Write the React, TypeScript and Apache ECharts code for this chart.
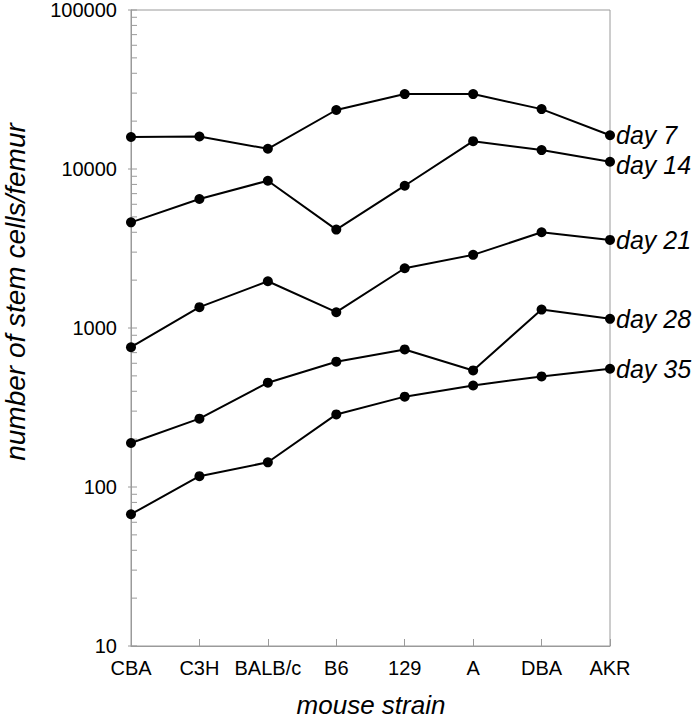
import React, { useEffect, useRef } from "react";
import * as echarts from "echarts";

const strains = ["CBA", "C3H", "BALB/c", "B6", "129", "A", "DBA", "AKR"];
const seriesNames = ["day 7", "day 14", "day 21", "day 28", "day 35"];
const day7 = [15900, 16000, 13400, 23500, 29600, 29600, 23800, 16300];
const day14 = [4620, 6480, 8440, 4160, 7850, 14970, 13150, 11100];
const day21 = [757, 1352, 1967, 1257, 2375, 2884, 4000, 3580];
const day28 = [189, 269, 453, 614, 733, 541, 1306, 1142];
const day35 = [67.4, 117, 143, 286, 370, 435, 496, 554];
const yDecades = [10, 100, 1000, 10000, 100000];
const xAxisTitle = "mouse strain";
const yAxisTitle = "number of stem cells/femur";

const FONT = "'Liberation Sans', Arial, Helvetica, sans-serif";
const AXIS_GREY = "#9a9a9a";

export default function App() {
  const ref = useRef<HTMLDivElement>(null);
  useEffect(() => {
    if (!ref.current) return;
    const chart = echarts.init(ref.current, null, { renderer: "svg" });
    const allData = [day7, day14, day21, day28, day35];
    const tickValues: number[] = [];
    yDecades.forEach((d, i) => {
      if (i === yDecades.length - 1) {
        tickValues.push(d);
        return;
      }
      for (let k = 1; k <= 9; k++) tickValues.push(d * k);
    });
    const labelOffsets = [[0, 0], [0, 3], [0, 0], [0, 0], [0, 0]];
    const lineSeries = allData.map((d, i) => ({
      type: "line",
      name: seriesNames[i],
      data: d,
      symbol: "circle",
      symbolSize: 10,
      z: 3,
      itemStyle: { color: "#000" },
      lineStyle: { color: "#000", width: 2 },
      endLabel: {
        show: true,
        formatter: "{a}",
        color: "#000",
        fontSize: 25,
        fontStyle: "italic",
        fontFamily: FONT,
        distance: 6,
        offset: labelOffsets[i],
      },
      labelLayout: { hideOverlap: false },
    }));
    const tickSeries = {
      type: "custom",
      name: "yticks",
      silent: true,
      z: 1,
      data: tickValues.map((v) => [0, v]),
      renderItem: (params: any, api: any) => {
        const v = api.value(1);
        const p = api.coord([0, v]);
        const isDecade = yDecades.indexOf(v) >= 0;
        return {
          type: "line",
          shape: { x1: p[0] - (isDecade ? 3 : 0), y1: p[1], x2: p[0] + 6, y2: p[1] },
          style: { stroke: AXIS_GREY, lineWidth: 1 },
        };
      },
    };
    chart.setOption({
      animation: false,
      backgroundColor: "#fff",
      grid: {
        left: 131,
        right: 89,
        top: 8,
        bottom: 74,
        show: true,
        borderColor: AXIS_GREY,
        borderWidth: 1,
        backgroundColor: "transparent",
      },
      xAxis: {
        type: "category",
        data: strains,
        boundaryGap: false,
        axisLine: { lineStyle: { color: AXIS_GREY, width: 1 } },
        axisTick: { inside: true, length: 7, interval: 0, lineStyle: { color: AXIS_GREY } },
        axisLabel: { color: "#000", fontSize: 20, fontFamily: FONT, margin: 12, interval: 0 },
        splitLine: { show: false },
      },
      yAxis: {
        type: "log",
        logBase: 10,
        min: 10,
        max: 100000,
        axisLine: { show: true, lineStyle: { color: AXIS_GREY, width: 1 } },
        axisTick: { show: false },
        minorTick: { show: false },
        axisLabel: {
          color: "#000",
          fontSize: 20,
          fontFamily: FONT,
          margin: 14,
          formatter: (v: number) => String(Math.round(v)),
        },
        splitLine: { show: false },
      },
      graphic: [
        {
          type: "text",
          x: 371,
          y: 705,
          style: {
            text: xAxisTitle,
            fontSize: 26,
            fontStyle: "italic",
            fontFamily: FONT,
            fill: "#000",
            textAlign: "center",
            textVerticalAlign: "middle",
          },
        },
        {
          type: "text",
          x: 15,
          y: 292,
          rotation: Math.PI / 2,
          style: {
            text: yAxisTitle,
            fontSize: 28,
            fontStyle: "italic",
            fontFamily: FONT,
            fill: "#000",
            textAlign: "center",
            textVerticalAlign: "middle",
          },
        },
      ],
      series: [tickSeries, ...lineSeries],
    });
    return () => chart.dispose();
  }, []);
  return (
    <div
      ref={ref}
      style={{ position: "fixed", left: 0, top: 0, width: 699, height: 720, background: "#fff" }}
    />
  );
}
